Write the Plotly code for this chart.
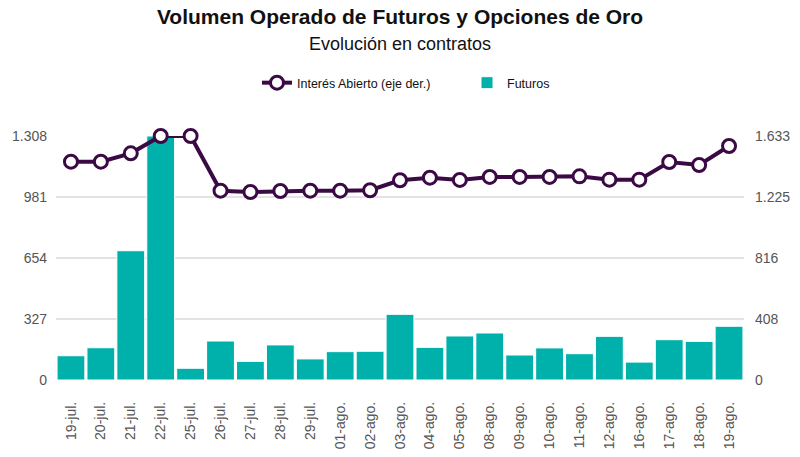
import plotly.graph_objects as go

categories = ["19-jul.", "20-jul.", "21-jul.", "22-jul.", "25-jul.", "26-jul.", "27-jul.", "28-jul.",
              "29-jul.", "01-ago.", "02-ago.", "03-ago.", "04-ago.", "05-ago.", "08-ago.", "09-ago.",
              "10-ago.", "11-ago.", "12-ago.", "16-ago.", "17-ago.", "18-ago.", "19-ago."]
futuros = [130, 173, 693, 1308, 63, 209, 100, 188, 113, 152, 154, 352, 175, 236, 252, 134,
           172, 141, 234, 96, 216, 207, 288]
interes_abierto = [1461, 1461, 1517, 1633, 1633, 1267, 1258, 1265, 1267, 1267, 1270, 1337, 1354,
                   1339, 1359, 1359, 1359, 1363, 1341, 1341, 1459, 1439, 1566]
left_ticks = [0, 327, 654, 981, 1308]
right_ticks = [0, 408, 816, 1225, 1633]

fmt = lambda v: f"{v:,}".replace(",", ".")

fig = go.Figure()
fig.add_trace(go.Scatter(
    x=categories, y=interes_abierto, name="Interés Abierto (eje der.)", yaxis="y2",
    mode="lines+markers", line=dict(color="#3b0a45", width=4),
    marker=dict(size=13, color="white", line=dict(color="#3b0a45", width=3)),
    cliponaxis=False,
))
fig.add_trace(go.Bar(
    x=categories, y=futuros, name="Futuros", marker=dict(color="#00b0aa", line=dict(color="white", width=1)),
))

fig.update_layout(
    width=800, height=457,
    paper_bgcolor="white", plot_bgcolor="white",
    font=dict(family="Liberation Sans, Arial, sans-serif", color="#444"),
    margin=dict(l=56, r=56, t=136, b=77),
    bargap=0.07,
    title=dict(text="<b>Volumen Operado de Futuros y Opciones de Oro</b>", x=0.5, xref="paper", xanchor="center",
               y=1 - 17 / 457, yanchor="middle", font=dict(size=21, color="#111")),
    annotations=[dict(text="Evolución en contratos", x=0.5, xref="paper", y=(380 - 44) / 244, yref="paper",
                      yanchor="middle", showarrow=False, font=dict(size=18, color="#111"))],
    legend=dict(orientation="h", x=(257 - 56) / 688, xanchor="left", y=1.217, yanchor="middle",
                font=dict(size=12.5, color="#111"), traceorder="normal", entrywidth=165,
                entrywidthmode="pixels"),
    xaxis=dict(tickangle=-90, tickfont=dict(size=14, color="#555"), showgrid=False, ticks="",
               showline=False, range=[-0.5, len(categories) - 0.5], ticklabelstandoff=18,
               automargin=False),
    yaxis=dict(range=[0, 1308], tickvals=left_ticks, ticktext=[fmt(v) for v in left_ticks],
               tickfont=dict(size=14, color="#555"), gridcolor="#e3e3e3", gridwidth=1.5,
               zeroline=False, showline=False, ticklabelstandoff=8, automargin=False),
    yaxis2=dict(range=[0, 1633], tickvals=right_ticks, ticktext=[fmt(v) for v in right_ticks],
                overlaying="y", side="right", showgrid=False, zeroline=False,
                tickfont=dict(size=14, color="#555"), ticklabelstandoff=10, automargin=False),
)
fig.write_html("out.html", config={"displayModeBar": False},
               post_script="document.body.style.margin='0';")
